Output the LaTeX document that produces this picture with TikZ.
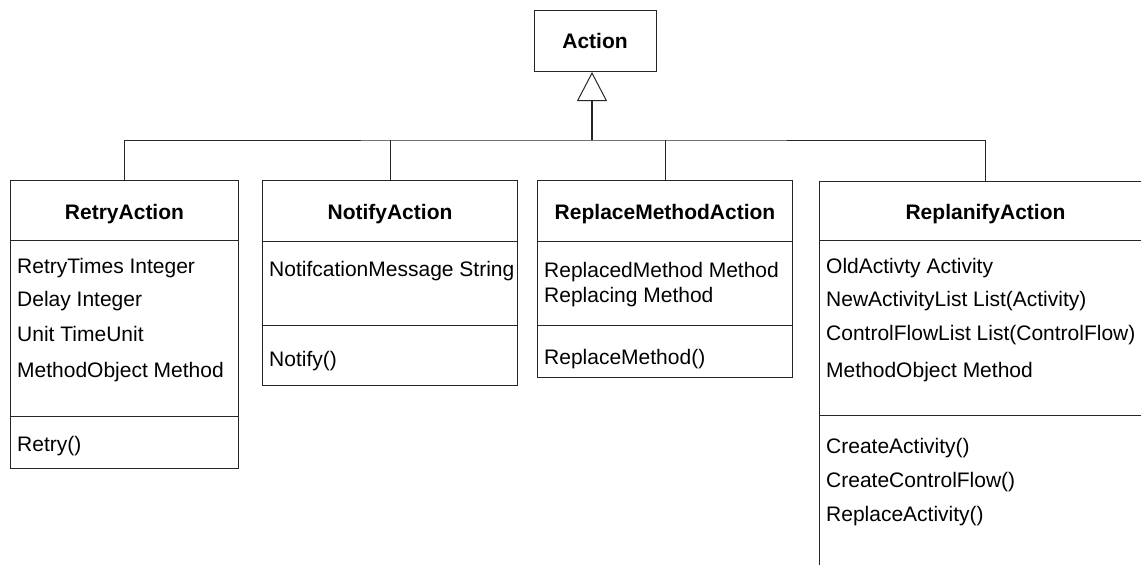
\documentclass[tikz,border=0pt]{standalone}
\usepackage{fontspec}
\setmainfont{Liberation Sans}
\usetikzlibrary{arrows.meta}
\begin{document}
\begin{tikzpicture}[x=1pt,y=-1pt,
  ln/.style={draw=black!85,line width=1pt},
  box/.style={ln,rectangle,inner sep=0pt,anchor=north west},
  ttl/.style={font=\fontsize{21}{25}\selectfont\bfseries,anchor=base,inner sep=0pt},
  txt/.style={font=\fontsize{21}{25}\selectfont,anchor=base west,inner sep=0pt},
]
\useasboundingbox (0,0) rectangle (1141,565);
\clip (0,0) rectangle (1141,565);
% Action
\node[box,minimum width=122pt,minimum height=61pt] (action) at (534,10) {};
\node[ttl] (actiont) at (595,48.5) {Action};
% classes
\node[box,minimum width=228pt,minimum height=288pt] (retry) at (10,180) {};
\node[box,minimum width=255pt,minimum height=205pt] (notify) at (262,180) {};
\node[box,minimum width=255pt,minimum height=197pt] (replace) at (537,180) {};
\node[box,minimum width=332pt,minimum height=420pt] (replan) at (819,181) {};
% dividers
\draw[ln] (10,240) -- (238,240) (10,416) -- (238,416);
\draw[ln] (262,241) -- (517,241) (262,325) -- (517,325);
\draw[ln] (537,241) -- (792,241) (537,325) -- (792,325);
\draw[ln] (819,240) -- (1151,240) (819,415) -- (1151,415);
% titles
\node[ttl] (retryt) at (retry.north |- 0,219) {RetryAction};
\node[ttl] (notifyt) at (notify.north |- 0,219) {NotifyAction};
\node[ttl] (replacet) at (replace.north |- 0,219) {ReplaceMethodAction};
\node[ttl] (replant) at (replan.north |- 0,219) {ReplanifyAction};
% Retry attributes
\node[txt] (r1) at (17,273) {RetryTimes Integer};
\node[txt] (r2) at (17,306) {Delay Integer};
\node[txt] (r3) at (17,341) {Unit TimeUnit};
\node[txt] (r4) at (17,377) {MethodObject Method};
\node[txt] (r5) at (17,451) {Retry()};
% Notify
\node[txt] (n1) at (269,276) {NotifcationMessage String};
\node[txt] (n2) at (269,366) {Notify()};
% Replace
\node[txt] (p1) at (544,277) {ReplacedMethod Method};
\node[txt] (p2) at (544,302) {Replacing Method};
\node[txt] (p3) at (544,364) {ReplaceMethod()};
% Replanify
\node[txt] (q1) at (826,273) {OldActivty Activity};
\node[txt] (q2) at (826,306) {NewActivityList List(Activity)};
\node[txt] (q3) at (826,340) {ControlFlowList List(ControlFlow)};
\node[txt] (q4) at (826,377) {MethodObject Method};
\node[txt] (q5) at (826,453) {CreateActivity()};
\node[txt] (q6) at (826,487) {CreateControlFlow()};
\node[txt] (q7) at (826,521) {ReplaceActivity()};
% connectors
\coordinate (hub) at (592,140);
\draw[ln] (retry.north) |- (hub) -| (replan.north);
\draw[ln] (notify.north) -- (notify.north |- hub);
\draw[ln] (replace.north) -- (replace.north |- hub);
\draw[draw=black!85,line width=2pt,-{Triangle[open,length=29pt,width=30pt,line width=1pt,fill=white]}] (hub) -- (hub |- action.south);
\end{tikzpicture}
\end{document}
